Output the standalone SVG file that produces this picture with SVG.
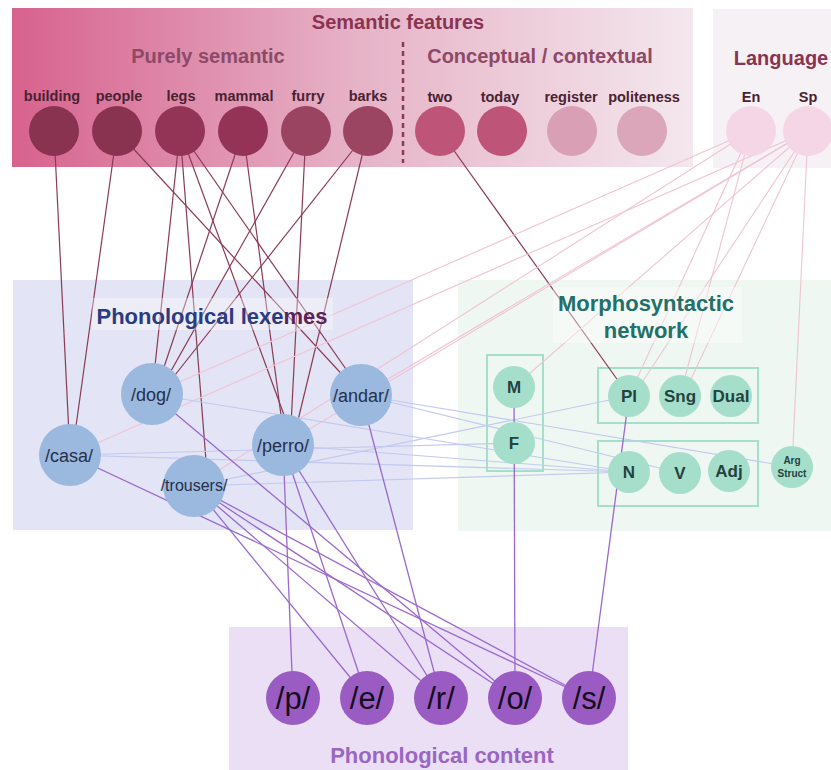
<svg xmlns="http://www.w3.org/2000/svg" width="831" height="770" viewBox="0 0 831 770">
<defs>
<linearGradient id="semg" x1="0" y1="0" x2="1" y2="0">
<stop offset="0" stop-color="#d7628d"/>
<stop offset="0.5" stop-color="#e6b2c6"/>
<stop offset="1" stop-color="#f4e7ed"/>
</linearGradient>
<style>
text{font-family:"Liberation Sans",Arial,sans-serif}
.ttl{font-weight:bold;font-size:20px;text-anchor:middle}
.lab{font-weight:bold;font-size:14.5px;fill:#4a2232;text-anchor:middle}
.lex circle{fill:#9bb8df}
.lext{font-size:18px;fill:#26304a;text-anchor:middle}
.mor circle{fill:#a5dfcb}
.mort{font-weight:bold;font-size:17px;fill:#24433f;text-anchor:middle}
.pho circle{fill:#9a5cc2}
.phot{font-size:31px;fill:#150d1c;text-anchor:middle}
.sb{fill:none;stroke:#a5dfcb;stroke-width:2}
.cs line{stroke:#8b3a55;stroke-width:1.2}
.cl line{stroke:#f0c4d3;stroke-width:1.1}
.cb line{stroke:#c3c9ef;stroke-width:1.1}
.cp line{stroke:#9b68cf;stroke-width:1.3}
</style>
</defs>
<rect width="831" height="770" fill="#ffffff"/>
<!-- panels -->
<rect x="12" y="8" width="681" height="159" fill="url(#semg)"/>
<rect x="713" y="9" width="118" height="159" fill="#f6f1f4"/>
<line x1="403" y1="42" x2="403" y2="163" stroke="#8b3a55" stroke-width="2.5" stroke-dasharray="5,4"/>
<rect x="13" y="280" width="400" height="250" fill="#e3e4f5"/>
<rect x="458" y="280" width="373" height="251" fill="#eef7f2"/>
<rect x="229" y="627" width="399" height="143" fill="#eadff5"/>
<rect x="487" y="355" width="56" height="116" class="sb"/>
<rect x="598" y="368" width="160" height="55" class="sb"/>
<rect x="598" y="441" width="160" height="65" class="sb"/>
<!-- connectors -->
<g id="connectors">
<g class="cs">
<line x1="54" y1="131" x2="70" y2="455"/>
<line x1="117" y1="131" x2="72" y2="455"/>
<line x1="117" y1="131" x2="361" y2="395"/>
<line x1="180" y1="131" x2="152" y2="394"/>
<line x1="180" y1="131" x2="208" y2="486"/>
<line x1="180" y1="131" x2="295" y2="445"/>
<line x1="180" y1="131" x2="364" y2="395"/>
<line x1="243" y1="131" x2="155" y2="394"/>
<line x1="243" y1="131" x2="285" y2="445"/>
<line x1="306" y1="131" x2="158" y2="394"/>
<line x1="306" y1="131" x2="290" y2="445"/>
<line x1="368" y1="131" x2="160" y2="394"/>
<line x1="368" y1="131" x2="292" y2="445"/>
<line x1="440" y1="131" x2="629" y2="396" stroke="#d886a3"/>
</g>
<g class="cl">
<line x1="751" y1="131" x2="152" y2="394"/>
<line x1="751" y1="131" x2="194" y2="486"/>
<line x1="751" y1="131" x2="629" y2="396"/>
<line x1="751" y1="131" x2="680" y2="396"/>
<line x1="808" y1="131" x2="70" y2="455"/>
<line x1="808" y1="131" x2="283" y2="445"/>
<line x1="808" y1="131" x2="361" y2="395"/>
<line x1="808" y1="131" x2="514" y2="387"/>
<line x1="808" y1="131" x2="633" y2="396"/>
<line x1="808" y1="131" x2="683" y2="396"/>
<line x1="808" y1="131" x2="792" y2="467"/>
</g>
<g class="cb">
<line x1="152" y1="394" x2="629" y2="472"/>
<line x1="70" y1="455" x2="629" y2="472"/>
<line x1="70" y1="455" x2="514" y2="443"/>
<line x1="194" y1="486" x2="629" y2="472"/>
<line x1="194" y1="486" x2="629" y2="396"/>
<line x1="283" y1="445" x2="629" y2="472"/>
<line x1="361" y1="395" x2="680" y2="473"/>
<line x1="361" y1="395" x2="792" y2="467"/>
</g>
<g class="cp">
<line x1="283" y1="445" x2="293" y2="698"/>
<line x1="283" y1="445" x2="367" y2="698"/>
<line x1="283" y1="445" x2="441" y2="698"/>
<line x1="194" y1="486" x2="367" y2="698"/>
<line x1="194" y1="486" x2="441" y2="698"/>
<line x1="194" y1="486" x2="515" y2="698"/>
<line x1="194" y1="486" x2="589" y2="698"/>
<line x1="152" y1="394" x2="515" y2="698"/>
<line x1="70" y1="455" x2="589" y2="698"/>
<line x1="361" y1="395" x2="441" y2="698"/>
<line x1="514" y1="387" x2="515" y2="698"/>
<line x1="629" y1="396" x2="589" y2="698"/>
</g>
</g>
<!-- title backgrounds -->
<rect x="92" y="298" width="241" height="32" fill="#ffffff" opacity="0.35"/>
<rect x="553" y="287" width="189" height="56" fill="#ffffff" opacity="0.4"/>
<!-- titles -->
<text x="398" y="29" class="ttl" fill="#8b3352">Semantic features</text>
<text x="208" y="63" class="ttl" fill="#8d4a68">Purely semantic</text>
<text x="540" y="63" class="ttl" fill="#8d4a68">Conceptual / contextual</text>
<text x="781" y="65" class="ttl" fill="#8b3352">Language</text>
<text x="212" y="324" style="font-weight:bold;font-size:22px;text-anchor:middle" fill="#2b3b82">Phonological lexe<tspan fill="#5b2456">mes</tspan></text>
<text x="646" y="311" style="font-weight:bold;font-size:22px;text-anchor:middle" fill="#21706a">Morphosyntactic</text>
<text x="646" y="338" style="font-weight:bold;font-size:22px;text-anchor:middle" fill="#21706a">network</text>
<text x="442" y="763" style="font-weight:bold;font-size:22px;text-anchor:middle" fill="#9a66c2">Phonological content</text>
<!-- semantic nodes -->
<g id="building"><circle cx="54" cy="131" r="25" fill="#893350"/><text x="52" y="101" class="lab">building</text></g>
<g id="people"><circle cx="117" cy="131" r="25" fill="#8a3350"/><text x="119" y="101" class="lab">people</text></g>
<g id="legs"><circle cx="180" cy="131" r="25" fill="#933456"/><text x="181" y="101" class="lab">legs</text></g>
<g id="mammal"><circle cx="243" cy="131" r="25" fill="#953356"/><text x="244" y="101" class="lab">mammal</text></g>
<g id="furry"><circle cx="306" cy="131" r="25" fill="#9a4461"/><text x="308" y="101" class="lab">furry</text></g>
<g id="barks"><circle cx="368" cy="131" r="25" fill="#9b4563"/><text x="368" y="101" class="lab">barks</text></g>
<g id="two"><circle cx="440" cy="131" r="25" fill="#bf5479"/><text x="440" y="102" class="lab">two</text></g>
<g id="today"><circle cx="502" cy="131" r="25" fill="#bf5479"/><text x="500" y="102" class="lab">today</text></g>
<g id="register"><circle cx="572" cy="131" r="25" fill="#d9a0b5"/><text x="571" y="102" class="lab">register</text></g>
<g id="politeness"><circle cx="642" cy="131" r="25" fill="#dba6b9"/><text x="644" y="102" class="lab">politeness</text></g>
<g id="En"><circle cx="751" cy="131" r="25" fill="#f5d6e6"/><text x="751" y="102" class="lab">En</text></g>
<g id="Sp"><circle cx="808" cy="131" r="25" fill="#f5d6e6"/><text x="808" y="102" class="lab">Sp</text></g>
<!-- lexemes -->
<g id="dog" class="lex"><circle cx="152" cy="394" r="31"/><text x="151" y="401" class="lext">/dog/</text></g>
<g id="casa" class="lex"><circle cx="70" cy="455" r="31"/><text x="69" y="462" class="lext">/casa/</text></g>
<g id="trousers" class="lex"><circle cx="194" cy="486" r="31"/><text x="194" y="491" class="lext" style="font-size:16px">/trousers/</text></g>
<g id="perro" class="lex"><circle cx="283" cy="445" r="31"/><text x="283" y="452" class="lext">/perro/</text></g>
<g id="andar" class="lex"><circle cx="361" cy="395" r="31"/><text x="361" y="402" class="lext">/andar/</text></g>
<!-- morphosyntactic -->
<g id="M" class="mor"><circle cx="514" cy="387" r="21"/><text x="514" y="393" class="mort">M</text></g>
<g id="F" class="mor"><circle cx="514" cy="443" r="21"/><text x="514" y="449" class="mort">F</text></g>
<g id="Pl" class="mor"><circle cx="629" cy="396" r="21"/><text x="629" y="402" class="mort">Pl</text></g>
<g id="Sng" class="mor"><circle cx="680" cy="396" r="21"/><text x="680" y="402" class="mort">Sng</text></g>
<g id="Dual" class="mor"><circle cx="731" cy="396" r="21"/><text x="731" y="402" class="mort">Dual</text></g>
<g id="N" class="mor"><circle cx="629" cy="472" r="21"/><text x="629" y="478" class="mort">N</text></g>
<g id="V" class="mor"><circle cx="680" cy="473" r="21"/><text x="680" y="479" class="mort">V</text></g>
<g id="Adj" class="mor"><circle cx="729" cy="471" r="21"/><text x="729" y="477" class="mort">Adj</text></g>
<g id="ArgStruct" class="mor"><circle cx="792" cy="467" r="21"/><text x="792" y="464" class="mort" style="font-size:10px">Arg</text><text x="792" y="477" class="mort" style="font-size:10px">Struct</text></g>
<!-- phonological content -->
<g id="p" class="pho"><circle cx="293" cy="698" r="27"/><text x="293" y="709" class="phot">/p/</text></g>
<g id="e" class="pho"><circle cx="367" cy="698" r="27"/><text x="367" y="709" class="phot">/e/</text></g>
<g id="r" class="pho"><circle cx="441" cy="698" r="27"/><text x="441" y="709" class="phot">/r/</text></g>
<g id="o" class="pho"><circle cx="515" cy="698" r="27"/><text x="515" y="709" class="phot">/o/</text></g>
<g id="s" class="pho"><circle cx="589" cy="698" r="27"/><text x="589" y="709" class="phot">/s/</text></g>
</svg>
